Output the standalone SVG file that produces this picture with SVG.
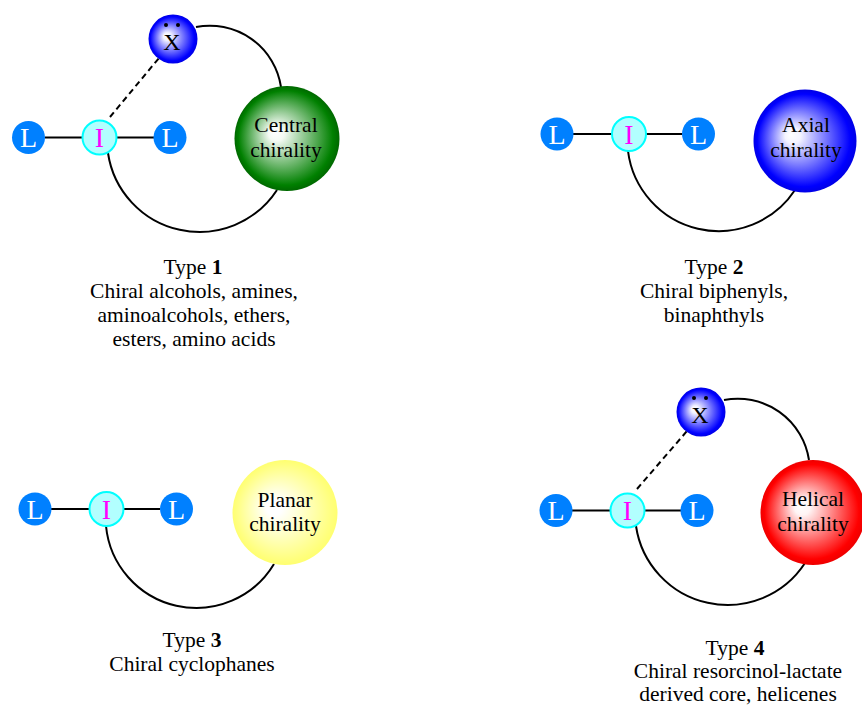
<svg xmlns="http://www.w3.org/2000/svg" width="862" height="705" viewBox="0 0 862 705">
<style>
text{font-family:"Liberation Serif","Times New Roman",serif;text-anchor:middle}
.lig{fill:#0080FF}
.ltx{fill:#ffffff;font-size:28px}
.ic{fill:#B2FFFF;stroke:#00FFFF;stroke-width:2}
.itx{fill:#FF00FF;font-size:28px}
.xtx{fill:#000000;font-size:24px}
.ctx{fill:#000000;font-size:21.5px}
.lbl{fill:#000000;font-size:21.5px}
.bond{stroke:#000000;stroke-width:2;fill:none}
.dash{stroke:#000000;stroke-width:2;fill:none;stroke-dasharray:6,4}
</style>
<defs>
<radialGradient id="gBlue" cx="50%" cy="50%" r="50%" fx="36%" fy="44%">
<stop offset="0" stop-color="#ffffff"/><stop offset="0.15" stop-color="#f4f4ff"/><stop offset="0.9" stop-color="#0000FF"/><stop offset="1" stop-color="#0000E6"/>
</radialGradient>
<radialGradient id="gGreen" cx="50%" cy="50%" r="50%" fx="38%" fy="44%">
<stop offset="0" stop-color="#ffffff"/><stop offset="0.15" stop-color="#f4faf4"/><stop offset="0.9" stop-color="#008000"/><stop offset="1" stop-color="#006800"/>
</radialGradient>
<radialGradient id="gYellow" cx="50%" cy="50%" r="50%" fx="38%" fy="44%">
<stop offset="0" stop-color="#ffffff"/><stop offset="0.15" stop-color="#ffffff"/><stop offset="0.9" stop-color="#FFFF80"/><stop offset="1" stop-color="#FFFF70"/>
</radialGradient>
<radialGradient id="gRed" cx="50%" cy="50%" r="50%" fx="38%" fy="44%">
<stop offset="0" stop-color="#ffffff"/><stop offset="0.15" stop-color="#fff4f4"/><stop offset="0.9" stop-color="#FF0000"/><stop offset="1" stop-color="#EE0000"/>
</radialGradient>
</defs>

<g id="connectors">
<!-- type 1 -->
<line class="bond" x1="45" y1="137.5" x2="82" y2="137.5"/>
<line class="bond" x1="117" y1="137.5" x2="154" y2="137.5"/>
<line class="dash" x1="110" y1="117" x2="159" y2="58"/>
<path class="bond" d="M196,27 A72,72 0 0 1 281,87"/>
<path class="bond" d="M108,153 A92.5,92.5 0 0 0 277,190"/>
<!-- type 2 -->
<line class="bond" x1="573" y1="134" x2="612" y2="134"/>
<line class="bond" x1="646" y1="134" x2="682" y2="134"/>
<path class="bond" d="M628,151 A91.4,91.4 0 0 0 795,190"/>
<!-- type 3 -->
<line class="bond" x1="51" y1="509" x2="89" y2="509"/>
<line class="bond" x1="124" y1="509" x2="160" y2="509"/>
<path class="bond" d="M106,526 A90.7,90.7 0 0 0 274,564"/>
<!-- type 4 -->
<line class="bond" x1="572" y1="510.5" x2="610" y2="510.5"/>
<line class="bond" x1="645" y1="510.5" x2="681" y2="510.5"/>
<line class="dash" x1="637" y1="489" x2="687" y2="431"/>
<path class="bond" d="M724,400 A72,72 0 0 1 809,460"/>
<path class="bond" d="M636,526 A92.5,92.5 0 0 0 805,563"/>
</g>

<!-- Type 1 -->
<g id="t1-L1"><circle class="lig" cx="28.5" cy="137.5" r="16.5"/><text class="ltx" x="28.5" y="147">L</text></g>
<g id="t1-I"><circle class="ic" cx="99.5" cy="137.5" r="17"/><text class="itx" x="99.5" y="147">I</text></g>
<g id="t1-L2"><circle class="lig" cx="170" cy="137.5" r="16.5"/><text class="ltx" x="170" y="147">L</text></g>
<g id="t1-X"><circle cx="173" cy="39" r="24.5" fill="url(#gBlue)"/><text class="xtx" x="172" y="50">X</text><circle cx="166" cy="25" r="2"/><circle cx="178" cy="25" r="2"/></g>
<g id="t1-central"><circle cx="287" cy="138.5" r="52.5" fill="url(#gGreen)"/><text class="ctx" x="286" y="132">Central</text><text class="ctx" x="286" y="157">chirality</text></g>
<g id="t1-label"><text class="lbl" x="193" y="274">Type <tspan font-weight="bold">1</tspan></text><text class="lbl" x="194" y="298">Chiral alcohols, amines,</text><text class="lbl" x="194" y="322">aminoalcohols, ethers,</text><text class="lbl" x="194" y="346">esters, amino acids</text></g>

<!-- Type 2 -->
<g id="t2-L1"><circle class="lig" cx="557" cy="134" r="16.5"/><text class="ltx" x="557" y="143.5">L</text></g>
<g id="t2-I"><circle class="ic" cx="629" cy="134" r="17"/><text class="itx" x="629" y="143.5">I</text></g>
<g id="t2-L2"><circle class="lig" cx="698.5" cy="134" r="16.5"/><text class="ltx" x="698.5" y="143.5">L</text></g>
<g id="t2-axial"><circle cx="805" cy="141" r="51.5" fill="url(#gBlue)"/><text class="ctx" x="806" y="132">Axial</text><text class="ctx" x="806" y="157">chirality</text></g>
<g id="t2-label"><text class="lbl" x="714" y="274">Type <tspan font-weight="bold">2</tspan></text><text class="lbl" x="714" y="298">Chiral biphenyls,</text><text class="lbl" x="714" y="322">binaphthyls</text></g>

<!-- Type 3 -->
<g id="t3-L1"><circle class="lig" cx="35" cy="509" r="16.5"/><text class="ltx" x="35" y="518.5">L</text></g>
<g id="t3-I"><circle class="ic" cx="106.5" cy="509" r="17"/><text class="itx" x="106.5" y="518.5">I</text></g>
<g id="t3-L2"><circle class="lig" cx="176.5" cy="509" r="16.5"/><text class="ltx" x="176.5" y="518.5">L</text></g>
<g id="t3-planar"><circle cx="285" cy="512.5" r="52.5" fill="url(#gYellow)"/><text class="ctx" x="285" y="507">Planar</text><text class="ctx" x="285" y="531">chirality</text></g>
<g id="t3-label"><text class="lbl" x="192" y="647">Type <tspan font-weight="bold">3</tspan></text><text class="lbl" x="192" y="671">Chiral cyclophanes</text></g>

<!-- Type 4 -->
<g id="t4-L1"><circle class="lig" cx="556" cy="510.5" r="16.5"/><text class="ltx" x="556" y="520">L</text></g>
<g id="t4-I"><circle class="ic" cx="627.5" cy="510.5" r="17"/><text class="itx" x="627.5" y="520">I</text></g>
<g id="t4-L2"><circle class="lig" cx="697" cy="510.5" r="16.5"/><text class="ltx" x="697" y="520">L</text></g>
<g id="t4-X"><circle cx="701" cy="412" r="24.5" fill="url(#gBlue)"/><text class="xtx" x="700" y="423">X</text><circle cx="694" cy="398" r="2"/><circle cx="706" cy="398" r="2"/></g>
<g id="t4-helical"><circle cx="813" cy="512.5" r="52.5" fill="url(#gRed)"/><text class="ctx" x="813" y="506">Helical</text><text class="ctx" x="813" y="531">chirality</text></g>
<g id="t4-label"><text class="lbl" x="735" y="655">Type <tspan font-weight="bold">4</tspan></text><text class="lbl" x="738" y="678">Chiral resorcinol-lactate</text><text class="lbl" x="738" y="701">derived core, helicenes</text></g>
</svg>
